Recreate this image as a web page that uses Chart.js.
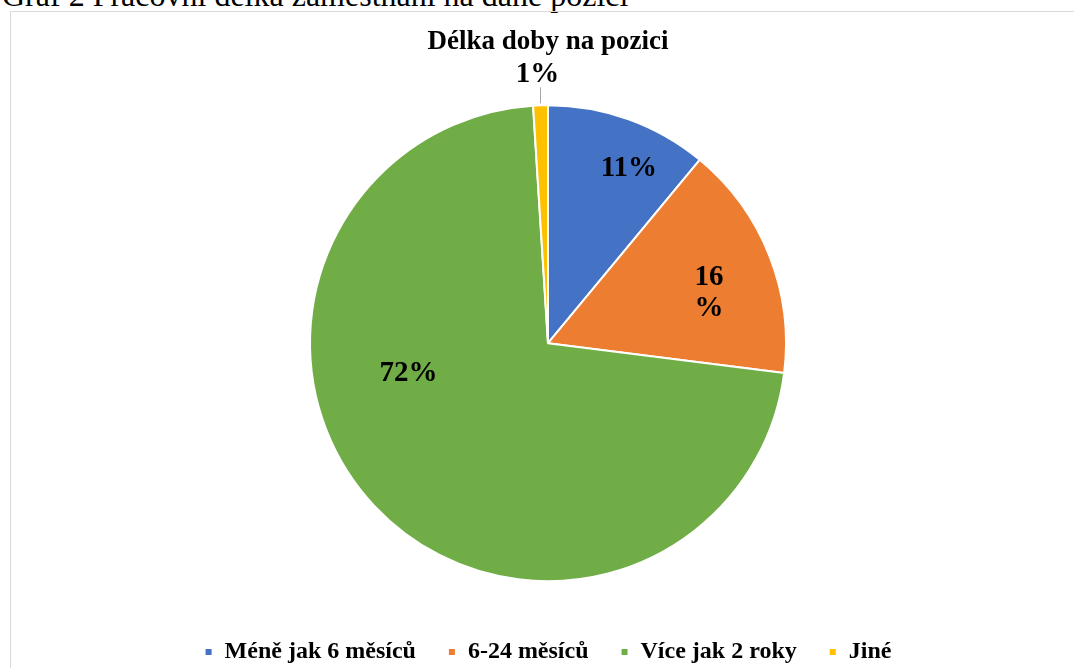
<!DOCTYPE html>
<html>
<head>
<meta charset="utf-8">
<script src="https://cdn.jsdelivr.net/npm/chart.js@4"></script>
<style>
  html, body { margin: 0; padding: 0; background: #fff; overflow: hidden; }
  #caption {
    position: absolute; left: 2px; top: -21px; line-height: 32px;
    font-family: 'Liberation Serif', serif; font-size: 32px; color: #000;
    white-space: nowrap;
  }
  #box {
    position: absolute; left: 10px; top: 11px; width: 1070px; height: 690px;
    border: 1px solid #d9d9d9; box-sizing: border-box;
  }
  #wrap { position: absolute; left: 0; top: 0; width: 1064px; height: 662px; }
</style>
</head>
<body>
<div id="caption">Graf 2 Pracovní délka zaměstnání na dané pozici</div>
<div id="box">
  <div id="wrap"><canvas id="pie"></canvas></div>
</div>
<script>
// chart data
var categories = ['Méně jak 6 měsíců', '6-24 měsíců', 'Více jak 2 roky', 'Jiné'];
var values = [11, 16, 72, 1];
var labelTexts = ['11%', ['16', '%'], '72%', '1%'];
var colors = ['#4472C4', '#ED7D31', '#70AD47', '#FFC000'];

// where each label sits: fraction of radius and angle shift (deg)
var labelPlace = [
    { r: 0.81, shift: 5 },
    { r: 0.71, shift: 4 },
    { r: 0.60, shift: 31 },
    { r: 1.0, outside: true }
];

// simple inline data label plugin
var pieLabels = {
    id: 'pieLabels',
    afterDatasetsDraw: function (chart) {
        var ctx = chart.ctx;
        var meta = chart.getDatasetMeta(0);
        ctx.save();
        ctx.font = 'bold 29px "Liberation Serif", serif';
        ctx.fillStyle = '#000';
        ctx.textAlign = 'center';
        ctx.textBaseline = 'middle';
        meta.data.forEach(function (arc, i) {
            var p = arc.getProps(['x', 'y', 'startAngle', 'endAngle', 'outerRadius'], true);
            var place = labelPlace[i];
            var mid = (p.startAngle + p.endAngle) / 2 + (place.shift || 0) * Math.PI / 180;
            var text = labelTexts[i];
            if (place.outside) {
                var x0 = p.x + Math.cos(mid) * p.outerRadius;
                var y0 = p.y + Math.sin(mid) * p.outerRadius;
                ctx.strokeStyle = '#a6a6a6';
                ctx.lineWidth = 1;
                ctx.beginPath();
                ctx.moveTo(x0, y0 - 2);
                ctx.lineTo(x0, y0 - 18);
                ctx.stroke();
                ctx.fillText(text, x0 - 3, y0 - 31);
                return;
            }
            var x = p.x + Math.cos(mid) * p.outerRadius * place.r;
            var y = p.y + Math.sin(mid) * p.outerRadius * place.r;
            if (Array.isArray(text)) {
                ctx.fillText(text[0], x, y - 15);
                ctx.fillText(text[1], x, y + 16);
            } else {
                ctx.fillText(text, x, y);
            }
        });
        ctx.restore();
    }
};

var ctx = document.getElementById('pie').getContext('2d');
var chart = new Chart(ctx, {
    type: 'pie',
    data: {
        labels: categories,
        datasets: [{
            data: values,
            backgroundColor: colors,
            borderColor: '#ffffff',
            borderWidth: 2,
            hoverOffset: 0,
            radius: 238
        }]
    },
    options: {
        responsive: true,
        maintainAspectRatio: false,
        animation: false,
        layout: {
            padding: { top: 0, bottom: 0, left: 10, right: 0 }
        },
        plugins: {
            title: {
                display: true,
                text: 'Délka doby na pozici',
                color: '#000',
                font: { family: 'Liberation Serif', size: 27, weight: 'bold' },
                padding: { top: 14, bottom: 20 }
            },
            legend: {
                position: 'bottom',
                labels: {
                    color: '#000',
                    font: { family: 'Liberation Serif', size: 24, weight: 'bold' },
                    boxWidth: 8,
                    boxHeight: 8,
                    padding: 32
                }
            },
            tooltip: { enabled: false }
        }
    },
    plugins: [pieLabels]
});
</script>
</body>
</html>
